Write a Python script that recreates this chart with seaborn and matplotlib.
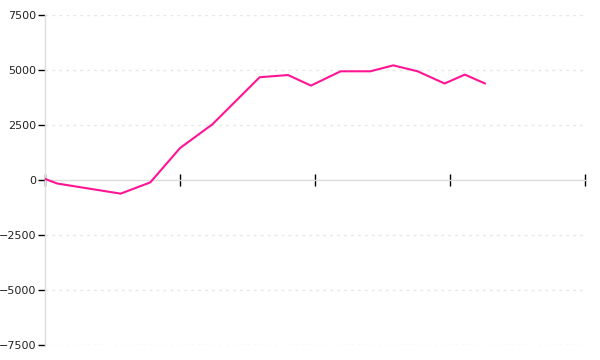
import matplotlib
matplotlib.use("Agg")
import matplotlib.pyplot as plt
import seaborn as sns
import pandas as pd

x_vals = [0, 0.9, 5.6, 7.8, 10, 12.4, 15.9, 18, 19.7, 21.9, 24.1, 25.8, 27.6, 29.6, 31.1, 32.6]
y_vals = [50, -160, -620, -110, 1450, 2530, 4670, 4770, 4290, 4940, 4940, 5210, 4940, 4385, 4790, 4385]
y_ticks = [-7500, -5000, -2500, 0, 2500, 5000, 7500]
x_ticks = [0, 10, 20, 30, 40]

sns.set_style("white")
plt.rcParams['font.family'] = ['DejaVu Sans']

df = pd.DataFrame({"x": x_vals, "y": y_vals})
fig = plt.figure(figsize=(6, 3.6), dpi=100)
ax = fig.add_axes([0.075, 0.0417, 0.9, 0.9167])

for t in y_ticks:
    if t != 0:
        ax.axhline(t, color="#e6e6e6", lw=1, ls=(0, (2, 3)), zorder=0)

sns.lineplot(data=df, x="x", y="y", ax=ax, color="#ff1493", lw=1.5, zorder=2)

ax.set_xlim(0, 40)
ax.set_ylim(-7500, 7500)
ax.set_yticks(y_ticks)
ax.set_yticklabels([str(t).replace("-", "\u2212") for t in y_ticks], fontsize=8, color="#222222")
ax.set_xticks(x_ticks)
ax.set_xticklabels([])
ax.set_xlabel("")
ax.set_ylabel("")

for s in ["top", "right"]:
    ax.spines[s].set_visible(False)
ax.spines["left"].set_color("#dddddd")
ax.spines["left"].set_linewidth(1)
ax.spines["left"].set_zorder(1)
ax.spines["bottom"].set_position(("data", 0))
ax.spines["bottom"].set_color("#dddddd")
ax.spines["bottom"].set_linewidth(1)
ax.spines["bottom"].set_zorder(1)

ax.tick_params(axis="y", direction="out", length=5, width=1, color="black", pad=1, left=True)
ax.tick_params(axis="x", direction="inout", length=8, width=1, color="black", bottom=True)

fig.savefig("out.png", dpi=100, facecolor="white")
